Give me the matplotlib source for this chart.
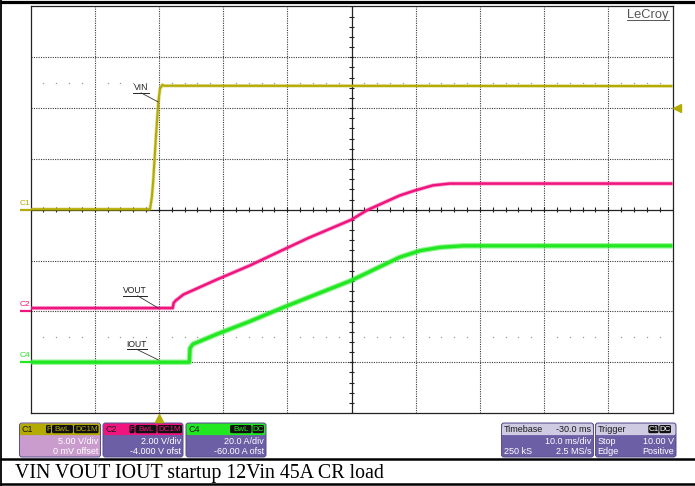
import matplotlib
matplotlib.use("Agg")
import matplotlib.pyplot as plt
import numpy as np
from matplotlib.patches import FancyBboxPatch, Rectangle
from matplotlib.transforms import blended_transform_factory as blend

plt.rcParams["lines.scale_dashes"] = False

# ---------------- data ----------------
# time in ms relative to the trigger point
vin_t = [-20, -1.39, -1.1, -0.87, -0.45, -0.09, 0.17, 0.53, 0.75, 80]
vin_v = [0.05, 0.05, 1.2, 3.0, 7.3, 10.6, 11.9, 12.3, 12.2, 12.17]

vout_t = [-20, 2.15, 2.3, 2.6, 3.8, 9.0, 14.2, 19.4, 23.3, 30.0, 32.4, 37.5, 39.9, 42.7, 45.3, 80]
vout_v = [0.13, 0.13, 0.33, 0.42, 0.66, 1.25, 1.81, 2.43, 2.89, 3.61, 3.98, 4.56, 4.76, 4.96, 5.03, 5.03]

iout_t = [-20, 4.74, 4.85, 5.3, 9.0, 14.2, 19.4, 23.3, 30.0, 37.5, 40.7, 43.8, 47.4, 80]
iout_a = [0.0, 0.0, 5.5, 7.1, 11.0, 16.1, 21.6, 25.5, 32.2, 41.3, 43.9, 45.2, 45.8, 45.8]

# scope settings
ch_names = ["C1", "C2", "C4"]
ch_scale = [5.0, 2.0, 20.0]        # units per division
ch_offset = [0.0, -4.0, -60.0]     # offset
ch_text1 = ["5.00 V/div", "2.00 V/div", "20.0 A/div"]
ch_text2 = ["0 mV offset", "-4.000 V ofst", "-60.00 A ofst"]
time_per_div = 10.0   # ms
time_delay = -30.0    # ms
trig_level = 10.0     # V
caption = "VIN VOUT IOUT startup 12Vin 45A CR load"

# ---------------- styling ----------------
YEL = "#b4ab00"
PNK = "#f0147f"
GRN = "#22e822"
BODY = "#6c5fa5"
HDR = "#cfcbe3"
W, H = 695, 486
FONT = "Liberation Sans"
DOT = (0, (0.8, 0.9))

fig = plt.figure(figsize=(W / 100, H / 100), dpi=100)
fig.patch.set_facecolor("white")

# plot area in pixels
L, R, T, B = 30.5, 672.5, 6.5, 413.0
rect = [L / W, (H - B) / H, (R - L) / W, (B - T) / H]

t0 = -time_delay - 5 * time_per_div
t1 = -time_delay + 5 * time_per_div

axes = []
for i in range(3):
    a = fig.add_axes(rect, label=f"ch{i}")
    a.set_xlim(t0, t1)
    c = -ch_offset[i]
    a.set_ylim(c - 4 * ch_scale[i], c + 4 * ch_scale[i])
    a.set_xticks([]); a.set_yticks([])
    if i > 0:
        a.patch.set_alpha(0)
        for s in a.spines.values():
            s.set_visible(False)
    else:
        for s in a.spines.values():
            s.set_linewidth(0.9)
            s.set_color("#222222")
    axes.append(a)
ax1, ax2, ax3 = axes

# grid on ax1 (VIN axis centred at 0)
xc = -time_delay
for k in range(1, 10):
    x = t0 + k * time_per_div
    if k == 5:
        ax1.axvline(x, color="#222222", lw=0.9, zorder=1)
    else:
        ax1.axvline(x, color="#3a3a3a", lw=0.8, ls=DOT, zorder=1)
for j in range(1, 8):
    y = -4 * ch_scale[0] + j * ch_scale[0]
    if j == 4:
        ax1.axhline(y, color="#222222", lw=0.9, zorder=1)
    else:
        ax1.axhline(y, color="#3a3a3a", lw=0.8, ls=DOT, zorder=1)

# minor ticks on centre lines
xm = np.arange(t0, t1 + 0.01, time_per_div / 5)
ax1.vlines(xm, -0.25, 0.25, color="#222222", lw=0.8, zorder=1)
ym = np.arange(-4 * ch_scale[0], 4 * ch_scale[0] + 0.01, ch_scale[0] / 5)
ax1.hlines(ym, xc - 0.4, xc + 0.4, color="#222222", lw=0.8, zorder=1)

# sparse dotted rows at +/-2.5 div
xd = [v for v in xm if abs(((v - t0) / time_per_div) - round((v - t0) / time_per_div)) > 1e-6]
for yy in (2.5 * ch_scale[0], -2.5 * ch_scale[0]):
    ax1.plot(xd, [yy] * len(xd), ls="none", marker="s", ms=0.9, mew=0, color="#9a9a9a", zorder=1)

# traces
ax1.plot(vin_t, vin_v, color=YEL, lw=2.6, alpha=0.35, zorder=3, solid_capstyle="butt")
ax1.plot(vin_t, vin_v, color=YEL, lw=1.5, zorder=4, solid_capstyle="butt")
ax2.plot(vout_t, vout_v, color=PNK, lw=3.0, alpha=0.35, zorder=3, solid_capstyle="butt")
ax2.plot(vout_t, vout_v, color=PNK, lw=1.8, zorder=4, solid_capstyle="butt")
ax3.plot(iout_t, iout_a, color=GRN, lw=4.0, alpha=0.45, zorder=3, solid_capstyle="butt")
ax3.plot(iout_t, iout_a, color=GRN, lw=2.4, zorder=4, solid_capstyle="butt")

# overlay in pixel coordinates
ov = fig.add_axes([0, 0, 1, 1], label="overlay")
ov.set_xlim(0, W); ov.set_ylim(H, 0)
ov.axis("off")
ov.patch.set_alpha(0)

# ground markers + channel labels on the left
for a, name, col in zip(axes, ch_names, [YEL, PNK, GRN]):
    tr = blend(ov.transData, a.transData)
    ov.plot([20, 31], [0, 0], color=col, lw=1.6, transform=tr, clip_on=False, solid_capstyle="butt")
    ov.annotate(name, xy=(19.5, 0), xycoords=tr, xytext=(0, 2.2), textcoords="offset points",
                color=col, fontsize=6, family=FONT, ha="left", va="bottom")

# trigger level marker (right) and trigger position (bottom)
ov.plot([677], [trig_level], marker="<", ms=5.5, color=YEL, ls="none",
        transform=blend(ov.transData, ax1.transData), clip_on=False)
ov.plot([0], [417.5], marker="^", ms=6, color=YEL, ls="none",
        transform=blend(ax1.transData, ov.transData), clip_on=False)

# trace annotations
labels = [("VIN", 133.3, 148.5, 88.0, 92.8, 141.0, ax1, 10.6),
          ("VOUT", 123.3, 147.0, 290.5, 295.7, 137.5, ax2, 0.13),
          ("IOUT", 126.7, 146.5, 344.0, 349.2, 136.5, ax3, 0.9)]
for txt, x0, x1, ty, uy, lx, a, val in labels:
    ov.text((x0 + x1) / 2, ty, txt, fontsize=6.2, family=FONT, color="#222222",
            ha="center", va="center")
    ov.plot([x0, x1], [uy, uy], color="#222222", lw=0.7)
    ov.annotate("", xy=(-0.1, val), xycoords=a.transData, xytext=(lx, uy),
                textcoords=ov.transData,
                arrowprops=dict(arrowstyle="-", lw=0.6, color="#333333", shrinkA=0, shrinkB=0))

# LeCroy logo
ov.text(648, 15.0, "LeCroy", fontsize=9.3, family=FONT, color="#555555", ha="center", va="center")
ov.plot([627, 669], [20.3, 20.3], color="#555555", lw=0.7)

# info boxes
BY0, BY1, BYH = 423.0, 457.0, 434.5


def info_box(x0, x1, hcol, bcol):
    ov.add_patch(FancyBboxPatch((x0, BY0), x1 - x0, BY1 - BY0,
                                boxstyle="round,pad=0,rounding_size=2.5",
                                fc=bcol, ec="#574c8c", lw=0.7))
    ov.add_patch(FancyBboxPatch((x0 + 0.6, BY0 + 0.6), x1 - x0 - 1.2, BYH - BY0,
                                boxstyle="round,pad=0,rounding_size=2",
                                fc=hcol, ec="none"))
    ov.add_patch(Rectangle((x0 + 0.6, BY0 + 5), x1 - x0 - 1.2, BYH - BY0 - 4.4,
                           fc=hcol, ec="none"))


def badge(x0, x1, txt, tcol):
    ov.add_patch(FancyBboxPatch((x0, 425.0), x1 - x0, 8.2,
                                boxstyle="round,pad=0,rounding_size=1.5",
                                fc="#111111", ec="none"))
    ov.text((x0 + x1) / 2, 429.2, txt, fontsize=5.8, family=FONT, color=tcol,
            ha="center", va="center")


ch_boxes = [(19.5, 100.5), (103.0, 183.0), (186.0, 266.0)]
ch_hdr = [YEL, PNK, GRN]
ch_body = ["#c99ccd", BODY, BODY]
for (x0, x1), name, hc, bc, s1, s2 in zip(ch_boxes, ch_names, ch_hdr, ch_body, ch_text1, ch_text2):
    info_box(x0, x1, hc, bc)
    ov.text(x0 + 2.5, 429.0, name, fontsize=6.5, family=FONT, color="#1a1a1a", va="center")
    if name != "C4":
        badge(x0 + 26.5, x0 + 31.5, "F", hc)
        badge(x0 + 32.5, x0 + 53.5, "BwL", hc)
        badge(x0 + 54.5, x0 + 79.0, "DC1M", hc)
    else:
        badge(x0 + 44.0, x0 + 65.5, "BwL", hc)
        badge(x0 + 66.5, x0 + 78.0, "DC", hc)
    ov.text(x1 - 2.0, 441.8, s1, fontsize=6.5, family=FONT, color="white", ha="right", va="center")
    ov.text(x1 - 2.0, 451.6, s2, fontsize=6.5, family=FONT, color="white", ha="right", va="center")

# timebase box
info_box(501.5, 593.5, HDR, BODY)
ov.text(503.5, 429.0, "Timebase", fontsize=6.5, family=FONT, color="#1a1a1a", va="center")
ov.text(591.5, 429.0, f"{time_delay:.1f} ms", fontsize=6.5, family=FONT, color="#1a1a1a",
        va="center", ha="right")
ov.text(591.5, 441.8, f"{time_per_div:.1f} ms/div", fontsize=6.5, family=FONT, color="white",
        va="center", ha="right")
ov.text(503.5, 451.6, "250 kS", fontsize=6.5, family=FONT, color="white", va="center")
ov.text(591.5, 451.6, "2.5 MS/s", fontsize=6.5, family=FONT, color="white", va="center", ha="right")

# trigger box
info_box(595.5, 676.0, HDR, BODY)
ov.text(597.5, 429.0, "Trigger", fontsize=6.5, family=FONT, color="#1a1a1a", va="center")
badge(648.3, 658.5, "C1", "white")
badge(659.3, 671.0, "DC", "white")
ov.text(597.5, 441.8, "Stop", fontsize=6.5, family=FONT, color="white", va="center")
ov.text(674.0, 441.8, f"{trig_level:.2f} V", fontsize=6.5, family=FONT, color="white",
        va="center", ha="right")
ov.text(597.5, 451.6, "Edge", fontsize=6.5, family=FONT, color="white", va="center")
ov.text(674.0, 451.6, "Positive", fontsize=6.5, family=FONT, color="white", va="center", ha="right")

# frame lines of the document cell and caption
ov.plot([0, W], [1.6, 1.6], color="black", lw=2.3, solid_capstyle="butt")
ov.plot([0.8, 0.8], [0, H], color="black", lw=1.3, solid_capstyle="butt")
ov.plot([0, W], [458.8, 458.8], color="black", lw=1.8, solid_capstyle="butt")
ov.plot([0, W], [484.3, 484.3], color="black", lw=1.8, solid_capstyle="butt")
ov.text(15, 477.7, caption, family="Liberation Serif", fontsize=14.3, color="black",
        va="baseline", ha="left")

fig.savefig("out.png", dpi=100)
